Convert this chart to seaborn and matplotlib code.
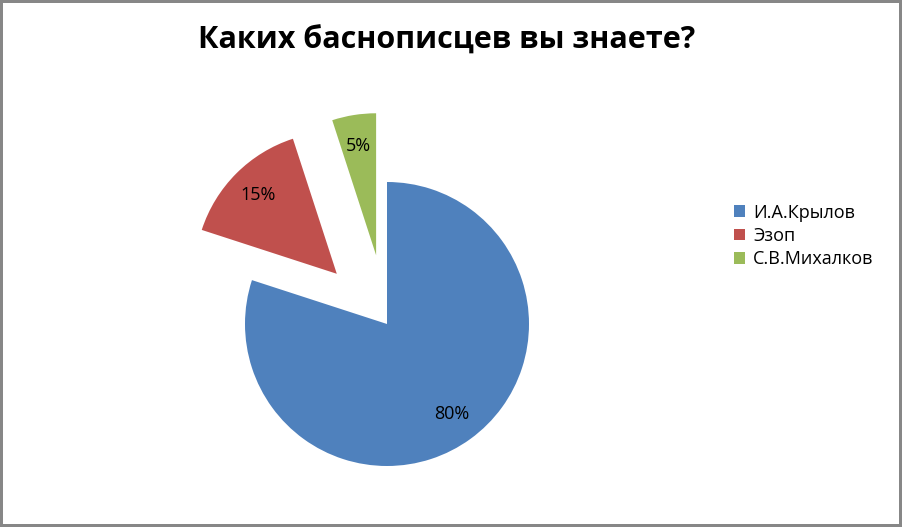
import matplotlib
matplotlib.use("Agg")
import matplotlib.pyplot as plt
import seaborn as sns

# --- data ---
title = "Каких баснописцев вы знаете?"
authors = ["И.А.Крылов", "Эзоп", "С.В.Михалков"]
shares = [80, 15, 5]
explode = [0, 0.5, 0.49]
colors = ["#4F81BD", "#C0504D", "#9BBB59"]

sns.set_theme(style="white")
plt.rcParams["font.family"] = ["Open Sans", "DejaVu Sans"]
plt.rcParams["text.color"] = "black"

W, H, DPI = 902, 527, 100
fig = plt.figure(figsize=(W / DPI, H / DPI), dpi=DPI,
                 facecolor="white", edgecolor="#878787", linewidth=4)

# pie radius ~142 px, centre at (387, 324) px from top-left
r = 142
cx, cy = 387, H - 324
ax = fig.add_axes([(cx - 1.5 * r) / W, (cy - 1.4 * r) / H, 3 * r / W, 3 * r / H])

wedges, texts, autotexts = ax.pie(
    shares, colors=sns.color_palette(colors), explode=explode,
    startangle=90, counterclock=False, autopct="%1.0f%%",
    pctdistance=0.78, wedgeprops={"linewidth": 0},
    textprops={"fontsize": 13, "color": "black"},
)
ax.set_xlim(-1.5, 1.5)
ax.set_ylim(-1.4, 1.6)
ax.axis("off")

fig.suptitle(title, fontsize=22, fontweight="bold", color="black", x=0.495, y=0.952)

fig.legend(wedges, authors, loc="center left", bbox_to_anchor=(734 / W, 1 - 236 / H),
           frameon=False, fontsize=13, labelcolor="black",
           handlelength=0.6, handleheight=0.6,
           handletextpad=0.45, labelspacing=0.3, borderpad=0, borderaxespad=0)

fig.savefig("out.png", dpi=DPI, edgecolor=fig.get_edgecolor())
